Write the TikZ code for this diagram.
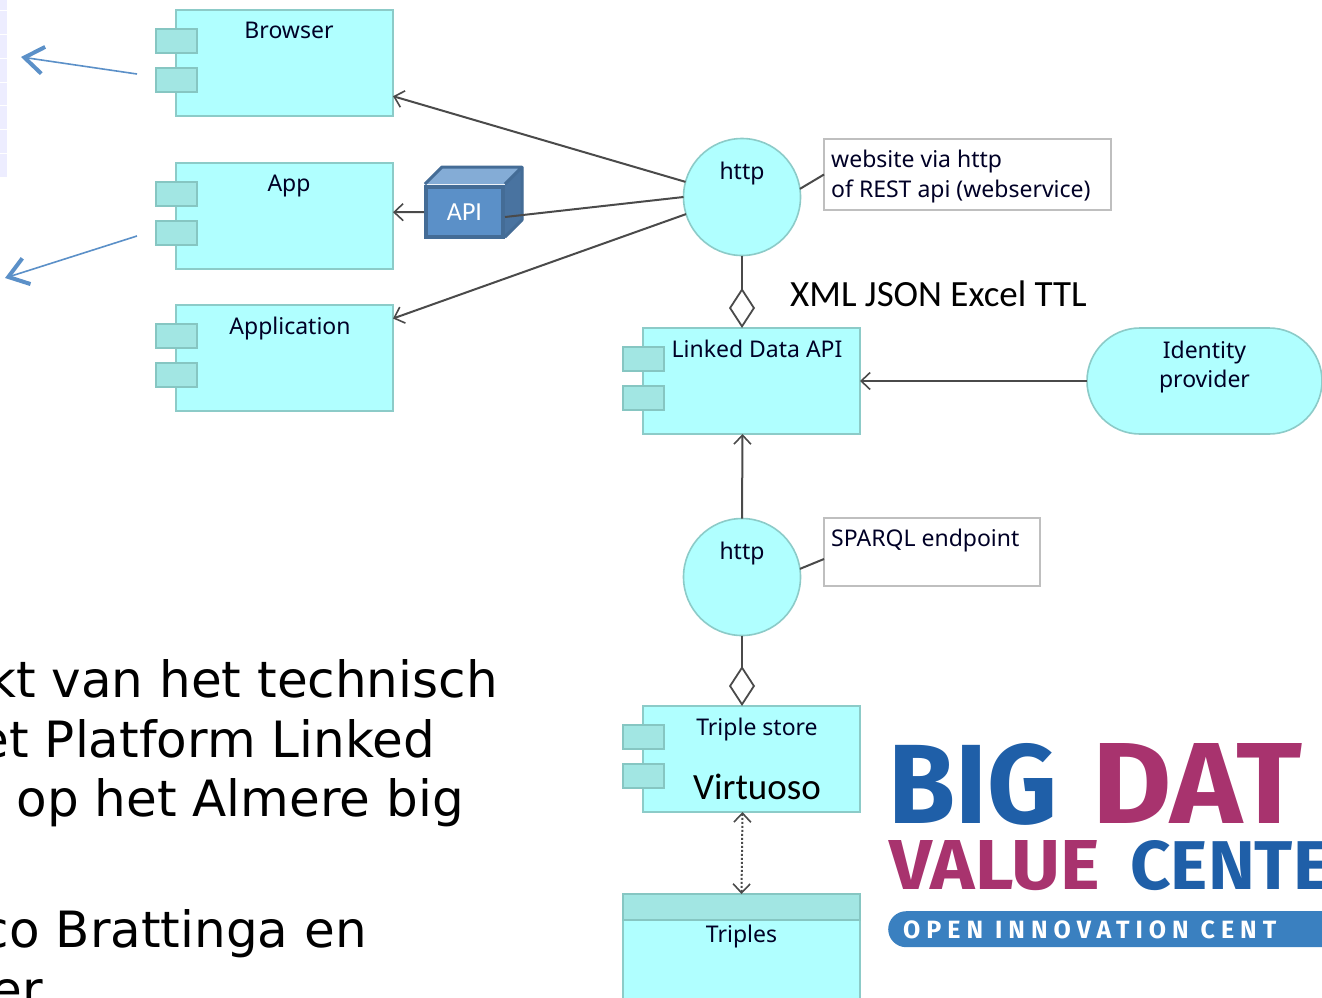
\documentclass[tikz,border=0pt]{standalone}
\usepackage{fontspec}
\usepackage{graphicx}
\usepackage{xcolor}
\usetikzlibrary{arrows.meta,shapes.misc}
\setmainfont{Noto Sans}
\newfontfamily\slidefont{Carlito}
\newfontfamily\bodyfont{DejaVu Sans}
\newfontfamily\logofont{Fira Sans}
\newfontfamily\pillfont[LetterSpace=24]{Fira Sans}
\definecolor{aquafill}{HTML}{B0FFFF}
\definecolor{aquaedge}{HTML}{8CCBC8}
\definecolor{tabfill}{HTML}{A2E6E3}
\definecolor{tabedge}{HTML}{86C6C2}
\definecolor{wire}{HTML}{4A4A4A}
\definecolor{slideblue}{HTML}{5B90C8}
\definecolor{logoblue}{HTML}{1F5FA8}
\definecolor{logorose}{HTML}{A8336E}
\definecolor{pillblue}{HTML}{3A80C0}
\tikzset{
  lbl/.style={inner sep=0pt, text=black!85!blue, font=\fontsize{23}{29}\selectfont, align=center},
  inlabel/.style n args={3}{label={[lbl,anchor=north,xshift=#1,yshift=#2]north:{#3}}},
  compbox/.style={draw=aquaedge, fill=aquafill, line width=1.6pt, minimum width=217pt, minimum height=106pt, inner sep=0pt, outer sep=0pt},
  tabbox/.style={draw=tabedge, fill=tabfill, line width=1.6pt, minimum width=41pt, minimum height=24pt, inner sep=0pt, outer sep=0pt, anchor=north west},
  httpcircle/.style={draw=aquaedge, fill=aquafill, circle, line width=1.6pt, minimum size=117pt, inner sep=0pt, outer sep=0pt},
  notebox/.style={draw=black!25, fill=white, chamfered rectangle, chamfered rectangle corners=south east, chamfered rectangle xsep=24pt, chamfered rectangle ysep=23pt, line width=1.4pt, inner sep=0pt, outer sep=0pt},
  notetext/.style={lbl, anchor=north west, align=left, font=\fontsize{23}{30}\selectfont},
  assoc/.style={draw=wire, line width=2pt},
  usedby/.style={assoc, -{Straight Barb[length=9pt,width=17pt,line width=1.6pt]}},
  aggr/.style={assoc, -{Diamond[open,fill=white,length=40pt,width=26pt,line width=1.8pt]}},
  slidearrow/.style={draw=slideblue, line width=1.6pt, -{Straight Barb[length=19pt,width=27pt,line width=4pt]}},
  bodytext/.style={inner sep=0pt, anchor=base east, font=\bodyfont\fontsize{50}{60}\selectfont},
  slidetext/.style={inner sep=0pt, text=black, font=\slidefont\fontsize{37}{44}\selectfont},
  logotext/.style={inner sep=0pt, anchor=base west, font=\logofont\bfseries},
}
\begin{document}
\begin{tikzpicture}[x=1pt,y=-1pt]
\useasboundingbox (0,0) rectangle (1322,997);
\clip (0,0) rectangle (1322,997);
\fill[white] (0,0) rectangle (1322,997);

\fill[blue!7] (0,0) rectangle (6.5,177);
\foreach \rowy in {10,34,58,82,105,129,153} {
  \draw[white, line width=1pt] (0,\rowy) -- (6.5,\rowy);
}

\node[compbox, inlabel={4.5pt}{-12pt}{Browser}] (browser) at (284.5,63) {};
\node[compbox, inlabel={4.5pt}{-12pt}{App}] (app) at (284.5,216) {};
\node[compbox, inlabel={5.5pt}{-12pt}{Application}] (application) at (284.5,358) {};
\node[compbox, inlabel={5.5pt}{-12pt}{Linked Data API}] (linkeddata) at (751.5,381) {};
\node[compbox, inlabel={5.5pt}{-12pt}{Triple store}] (triplestore) at (751.5,759) {};
\foreach \comp in {browser,app,application,linkeddata,triplestore} {
  \node[tabbox] (\comp tabA) at ([shift={(-20pt,-19pt)}]\comp.north west) {};
  \node[tabbox] (\comp tabB) at ([shift={(-20pt,-58pt)}]\comp.north west) {};
}

\node[compbox, minimum width=237pt, minimum height=130pt, anchor=north] (triples) at (741.5,894) {};
\node[draw=tabedge, fill=tabfill, line width=1.6pt, minimum width=237pt, minimum height=26pt, inner sep=0pt, outer sep=0pt, anchor=north, label={[lbl,anchor=north,yshift=-5pt]south:Triples}] (triplesbar) at (triples.north) {};

\node[httpcircle, inlabel={0pt}{-23pt}{http}] (httpweb) at (742,197) {};
\node[httpcircle, inlabel={0pt}{-23pt}{http}] (httpsparql) at (742,577) {};

\node[notebox, minimum width=287pt, minimum height=71pt, label={[notetext,xshift=7pt,yshift=-11pt]north west:{website via http\\of REST api (webservice)}}] (noteweb) at (967.5,174.5) {};
\node[notebox, minimum width=216pt, minimum height=68pt, label={[notetext,xshift=7pt,yshift=-11pt]north west:SPARQL endpoint}] (notesparql) at (932,552) {};

\node[draw=aquaedge, fill=aquafill, rounded rectangle, line width=1.6pt, minimum width=235pt, minimum height=106pt, inner sep=0pt, outer sep=0pt, inlabel={0pt}{-13pt}{Identity\\provider}] (identity) at (1204.5,381) {};

\fill[slideblue!75!white] (424,184) -- (442,166) -- (523,166) -- (505,184) -- cycle;
\fill[slideblue!80!black] (505,184) -- (523,166) -- (523,220) -- (505,238) -- cycle;
\node[draw=slideblue!75!black, fill=slideblue, line width=4pt, minimum width=77pt, minimum height=50pt, inner sep=0pt, outer sep=2pt, text=white, font=\slidefont\fontsize{26}{30}\selectfont] (api) at (464.5,212) {API};
\draw[slideblue!75!black, line width=3pt, line join=round] (425,184) -- (442,167) -- (522,167) -- (522,220) -- (505,237) (522,167) -- (505,184);

\draw[usedby] (httpweb.165) -- (browser.-17.4);
\draw[assoc] (httpweb.180) -- ([yshift=-5pt]api.east);
\draw[usedby] (api.west) -- (app.2);
\draw[usedby] (httpweb.197) -- (application.20.2);
\draw[assoc] (httpweb.8) -- (noteweb.west);
\draw[aggr] (httpweb.south) -- ([xshift=-9.5pt]linkeddata.north);
\draw[usedby] (identity.west) -- (linkeddata.east);
\draw[usedby] (httpsparql.north) -- ([xshift=-9pt]linkeddata.south);
\draw[assoc] (httpsparql.8) -- ([yshift=-7pt]notesparql.west);
\draw[aggr] (httpsparql.south) -- ([xshift=-9.5pt]triplestore.north);
\draw[assoc, dotted, {Straight Barb[length=9pt,width=17pt,line width=1.6pt]}-{Straight Barb[length=9pt,width=17pt,line width=1.6pt]}] ([xshift=-9pt]triplestore.south) -- (triplesbar.north);

\coordinate (browsernote) at (137,74);
\coordinate (browsertip) at (21,57);
\coordinate (appnote) at (137,236);
\coordinate (apptip) at (5,278);
\draw[slidearrow] (browsernote) -- (browsertip);
\draw[slidearrow] (appnote) -- (apptip);

\node[slidetext, anchor=base west] (formats) at (790,306) {XML JSON Excel TTL};
\node[slidetext, anchor=base] (virtuoso) at (757,799) {Virtuoso};

\node[bodytext] (lineone) at (498,697) {kt van het technisch};
\node[bodytext] (linetwo) at (435,757) {et Platform Linked};
\node[bodytext] (linethree) at (464,816) {op het Almere big};
\node[bodytext] (linefour) at (367,947) {co Brattinga en};
\node[bodytext] (linefive) at (43,1007) {er};

\node[logotext, text=logoblue] (logobig) at (888,823) {\resizebox{169pt}{80pt}{BIG}};
\node[logotext, text=logorose] (logodata) at (1092,823) {\resizebox{210pt}{80pt}{DAT}};
\node[logotext, text=logorose] (logovalue) at (889,889) {\resizebox{211pt}{49pt}{VALUE}};
\node[logotext, text=logoblue] (logocenter) at (1130,889) {\resizebox{200pt}{49pt}{CENTE}};
\node[fill=pillblue, rounded corners=18pt, minimum width=480pt, minimum height=36pt, inner sep=0pt, anchor=north west] (logopill) at (888,911) {};
\node[logotext, text=white, font=\pillfont\bfseries\fontsize{25}{30}\selectfont] (logopilltext) at (903,938) {OPEN INNOVATION CENT};
\end{tikzpicture}
\end{document}
